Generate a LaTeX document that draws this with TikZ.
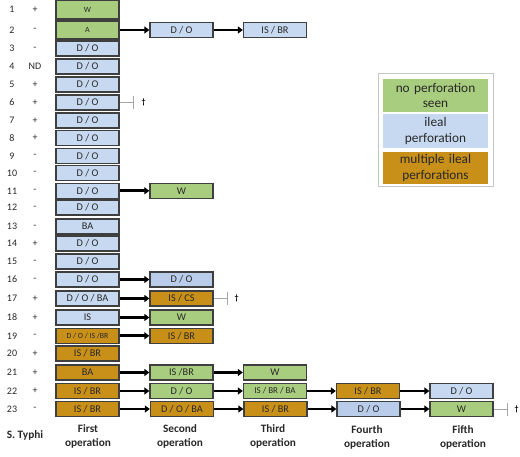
\documentclass[tikz,border=0pt]{standalone}
\usepackage{fontspec}
\setmainfont{Carlito}
\usetikzlibrary{arrows.meta}
\definecolor{cgrn}{HTML}{A9CD7E}
\definecolor{cblu}{HTML}{C6D9F0}
\definecolor{cblu2}{HTML}{B9CDEA}
\definecolor{corg}{HTML}{C89019}
\definecolor{cbrd}{HTML}{3F3F3F}
\definecolor{ctxt}{HTML}{282828}
\tikzset{
  bx/.style={draw=cbrd, line width=1.3pt, minimum width=63pt, minimum height=15pt, inner sep=0pt, text=ctxt, font=\fontsize{10.3}{11}\selectfont},
  grn/.style={fill=cgrn},
  blu/.style={fill=cblu},
  blu2/.style={fill=cblu2},
  org/.style={fill=corg},
  lab/.style={inner sep=0pt, text=ctxt, font=\fontsize{10}{11}\selectfont},
  arr/.style={line width=2.6pt, black, -{Triangle[length=5pt,width=7pt]}},
  dg/.style={draw=gray!70, line width=0.9pt},
  dag/.style={inner sep=0pt, font=\bfseries\fontsize{8}{9}\selectfont},
  hd/.style={inner sep=0pt, align=center, text=ctxt, font=\bfseries\fontsize{11.3}{14}\selectfont},
  legb/.style={minimum width=105pt, inner sep=0pt, align=center, text=ctxt, text width=100pt, font=\fontsize{13.3}{15.5}\selectfont}
}
\begin{document}
\begin{tikzpicture}[x=1pt,y=-1pt]
\useasboundingbox (0,0) rectangle (520,457);
% row labels
\foreach \n/\s/\y in {1/+/9.75,2/-/30,3/-/48.5,4/ND/66.5,5/+/84.5,6/+/102.5,7/+/120.5,8/+/137.7,9/-/155.8,10/-/173,11/-/190.8,12/-/207.5,13/-/226.5,14/+/243.5,15/-/261.5,16/-/279.5,17/+/298.5,18/+/317.5,19/-/335.8,20/+/353.5,21/+/372.5,22/+/391,23/-/409}{
  \node[lab] (n\n) at (12,\y) {\n};
  \node[lab] (s\n) at (35,\y) {\s};
}
% first column
\node[bx,grn,minimum height=18.5pt,font=\fontsize{8}{9}\selectfont] (r1a) at (87.5,9.75) {W};
\node[bx,grn,minimum height=18pt,font=\fontsize{8}{9}\selectfont] (r2a) at (87.5,30) {A};
\node[bx,blu] (r3a) at (87.5,48.5) {D / O};
\node[bx,blu] (r4a) at (87.5,66.5) {D / O};
\node[bx,blu] (r5a) at (87.5,84.5) {D / O};
\node[bx,blu] (r6a) at (87.5,102.5) {D / O};
\node[bx,blu] (r7a) at (87.5,120.5) {D / O};
\node[bx,blu] (r8a) at (87.5,137.7) {D / O};
\node[bx,blu] (r9a) at (87.5,155.8) {D / O};
\node[bx,blu] (r10a) at (87.5,173) {D / O};
\node[bx,blu] (r11a) at (87.5,190.8) {D / O};
\node[bx,blu] (r12a) at (87.5,207.5) {D / O};
\node[bx,blu] (r13a) at (87.5,226.5) {BA};
\node[bx,blu] (r14a) at (87.5,243.5) {D / O};
\node[bx,blu] (r15a) at (87.5,261.5) {D / O};
\node[bx,blu] (r16a) at (87.5,279.5) {D / O};
\node[bx,blu] (r17a) at (87.5,298.5) {D / O / BA};
\node[bx,blu] (r18a) at (87.5,317.5) {IS};
\node[bx,org,font=\fontsize{7.8}{9}\selectfont] (r19a) at (87.5,335.8) {D / O / IS /BR};
\node[bx,org] (r20a) at (87.5,353.5) {IS / BR};
\node[bx,org] (r21a) at (87.5,372.5) {BA};
\node[bx,org] (r22a) at (87.5,391) {IS / BR};
\node[bx,org] (r23a) at (87.5,409) {IS / BR};
% second column
\node[bx,blu] (r2b) at (181.5,30) {D / O};
\node[bx,grn] (r11b) at (181.5,190.8) {W};
\node[bx,blu2] (r16b) at (181.5,279.5) {D / O};
\node[bx,org] (r17b) at (181.5,298.5) {IS / CS};
\node[bx,grn] (r18b) at (181.5,317.5) {W};
\node[bx,org] (r19b) at (181.5,335.8) {IS / BR};
\node[bx,grn] (r21b) at (181.5,372.5) {IS /BR};
\node[bx,grn] (r22b) at (181.5,391) {D / O};
\node[bx,org] (r23b) at (182,409) {D / O / BA};
% third column
\node[bx,blu] (r2c) at (275,30) {IS / BR};
\node[bx,grn] (r21c) at (275,372.5) {W};
\node[bx,grn,font=\fontsize{9}{10}\selectfont] (r22c) at (275,391) {IS / BR / BA};
\node[bx,org] (r23c) at (275.5,409) {IS / BR};
% fourth column
\node[bx,org] (r22d) at (368,391) {IS / BR};
\node[bx,blu2] (r23d) at (368.5,409) {D / O};
% fifth column
\node[bx,blu] (r22e) at (461.5,391) {D / O};
\node[bx,grn] (r23e) at (461.5,409) {W};
% arrows
\draw[arr] (r2a) -- (r2b);
\draw[arr] (r2b) -- (r2c);
\draw[arr] (r11a) -- (r11b);
\draw[arr] (r16a) -- (r16b);
\draw[arr] (r17a) -- (r17b);
\draw[arr] (r18a) -- (r18b);
\draw[arr] (r19a) -- (r19b);
\draw[arr] (r21a) -- (r21b);
\draw[arr] (r21b) -- (r21c);
\draw[arr] (r22a) -- (r22b);
\draw[arr] (r22b) -- (r22c);
\draw[arr] (r22c) -- (r22d);
\draw[arr] (r22d) -- (r22e);
\draw[arr] (r23a) -- (r23b);
\draw[arr] (r23b) -- (r23c);
\draw[arr] (r23c) -- (r23d);
\draw[arr] (r23d) -- (r23e);
% deaths
\draw[dg] (r6a.east) -- ++(14,0) coordinate (d6) ++(0,-6.5) -- ++(0,13);
\node[dag] (x6) at ([xshift=10pt]d6) {†};
\draw[dg] (r17b.east) -- ++(14,0) coordinate (d17) ++(0,-6.5) -- ++(0,13);
\node[dag] (x17) at ([xshift=9pt]d17) {†};
\draw[dg] (r23e.east) -- ++(14,0) coordinate (d23) ++(0,-6.5) -- ++(0,13);
\node[dag] (x23) at ([xshift=9pt]d23) {†};
% legend
\node[draw=gray!45, line width=1pt, minimum width=115pt, minimum height=113pt, inner sep=0pt] (leg) at (435.5,130.5) {};
\node[legb,fill=cgrn,minimum height=33pt] (lg) at (435.5,95.5) {no perforation\\seen};
\node[legb,fill=cblu,minimum height=34pt] (lb) at (435.5,131) {ileal\\perforation};
\node[legb,fill=corg,minimum height=32pt] (lo) at (435.5,168) {multiple ileal\\perforations};
% headings
\node[hd] (h0) at (25,435) {S. Typhi};
\node[hd] (h1) at (88,436) {First\\operation};
\node[hd] (h2) at (180,436) {Second\\operation};
\node[hd] (h3) at (273,436) {Third\\operation};
\node[hd] (h4) at (367,437) {Fourth\\operation};
\node[hd] (h5) at (463,437) {Fifth\\operation};
\end{tikzpicture}
\end{document}
